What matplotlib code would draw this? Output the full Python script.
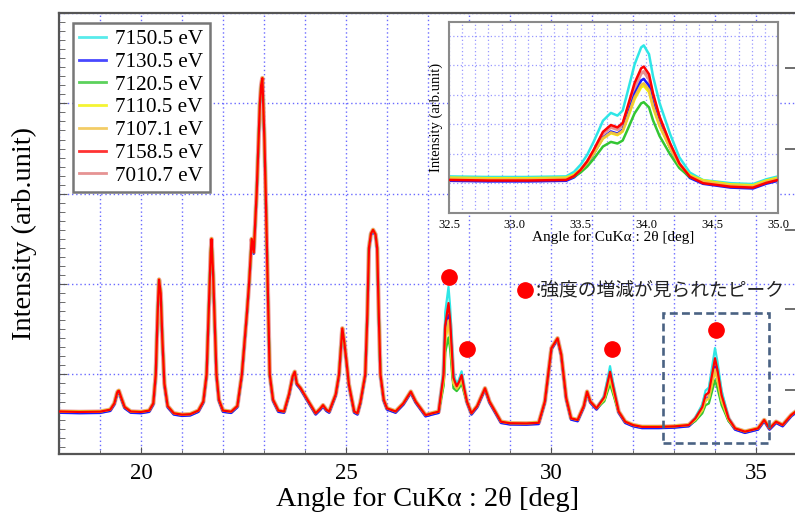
import numpy as np
import matplotlib.pyplot as plt
from matplotlib.patches import Rectangle
from matplotlib.ticker import MultipleLocator, FormatStrFormatter

plt.rcParams['font.family'] = ['Liberation Serif', 'DejaVu Sans']

labels = ['7150.5 eV', '7130.5 eV', '7120.5 eV', '7110.5 eV', '7107.1 eV', '7158.5 eV', '7010.7 eV']
colors = ['#2ee6e6', '#1a1aff', '#33c633', '#f2f200', '#f0c040', '#ff0000', '#e07878']
# peak height at the marked peaks relative to 7158.5 eV
gains = [1.155, 0.90, 0.68, 0.81, 0.84, 1.0, 0.95]
main_shift = [-5, -15, 0, 5, 0, 0, 0]
inset_shift = [0.12, -0.03, 0.03, 0.08, 0.05, 0.0, 0.02]

# main pattern (7158.5 eV curve), 2theta vs intensity
two_theta = [18.0, 18.5, 19.0, 19.25, 19.35, 19.42, 19.44, 19.46, 19.52, 19.6, 19.75,
             20.0, 20.2, 20.3, 20.36, 20.40, 20.42, 20.44, 20.48, 20.52, 20.57, 20.65,
             20.8, 21.0, 21.2, 21.4, 21.52, 21.6, 21.66, 21.70, 21.72, 21.76, 21.79,
             21.84, 21.9, 22.0, 22.2, 22.35, 22.46, 22.58, 22.64, 22.70, 22.75,
             22.82, 22.90, 22.93, 22.96, 23.01, 23.05, 23.09, 23.14, 23.22, 23.35, 23.49,
             23.61, 23.70, 23.75, 23.80, 23.89, 24.06, 24.26, 24.37, 24.44, 24.52,
             24.59, 24.75, 24.83, 24.91, 24.96, 25.01, 25.07, 25.2, 25.28, 25.35,
             25.47, 25.52, 25.56, 25.61, 25.66, 25.72, 25.76, 25.80, 25.84, 25.92, 26.0,
             26.21, 26.4, 26.58, 26.7, 26.94, 27.1, 27.26, 27.38, 27.42, 27.50,
             27.54, 27.58, 27.62, 27.70, 27.76, 27.82, 27.88, 27.95, 28.06, 28.2,
             28.39, 28.5, 28.78, 29.0, 29.4, 29.7, 29.85, 29.93, 30.01, 30.16,
             30.25, 30.37, 30.49, 30.65, 30.8, 30.88, 30.96, 31.11, 31.3, 31.44,
             31.5, 31.65, 31.81, 32.0, 32.22, 32.63, 33.0, 33.36, 33.52, 33.69,
             33.77, 33.85, 33.93, 34.0, 34.06, 34.16, 34.33, 34.49, 34.73, 35.05,
             35.2, 35.33, 35.49, 35.65, 35.86, 36.0]
intensity = [590, 585, 588, 610, 680, 800, 815, 820, 740, 640, 590,
             585, 600, 680, 1000, 1600, 1850, 2050, 1900, 1400, 900, 650,
             570, 555, 560, 600, 700, 1000, 1800, 2350, 2500, 2100, 1700,
             1000, 720, 600, 588, 650, 1000, 1660, 2030, 2500, 2350,
             3000, 4000, 4200, 4280, 3600, 2850, 2000, 1000, 720, 600, 590,
             780, 980, 1030, 900, 850, 720, 570, 620, 660, 610,
             590, 780, 1000, 1510, 1350, 1150, 890, 590, 570, 690,
             1000, 1660, 2400, 2560, 2600, 2550, 2400, 1660, 1000, 720, 625,
             590, 680, 810, 700, 550, 570, 588, 1000, 1547, 1790,
             1600, 1290, 964, 870, 920, 994, 850, 700, 570, 650,
             847, 700, 477, 460, 458, 465, 700, 1000, 1290, 1400,
             1220, 740, 514, 496, 650, 810, 700, 625, 750, 1030,
             900, 590, 477, 440, 420, 420, 425, 440, 514, 640,
             773, 800, 1000, 1179, 1050, 773, 514, 403, 367, 403,
             496, 403, 477, 440, 551, 600]

# marked peaks: (from, to, local background)
marked_windows = [(27.35, 27.66, 600), (27.68, 27.92, 700), (31.28, 31.56, 600), (33.45, 34.4, 420)]
dot_x = [27.50, 27.96, 31.48, 34.02]
dot_y = [2082, 1282, 1282, 1492]

# inset, 32.5-35.0 deg (7158.5 eV curve)
inset_theta = [32.5, 32.8, 33.1, 33.39, 33.45, 33.5, 33.55, 33.60, 33.67, 33.73,
               33.78, 33.82, 33.85, 33.91, 33.96, 33.98, 34.02, 34.05, 34.10, 34.18,
               34.25, 34.33, 34.43, 34.64, 34.81, 34.91, 35.0]
inset_int = [1.12, 1.10, 1.10, 1.12, 1.25, 1.46, 1.75, 2.14, 2.75, 2.98,
             2.90, 3.05, 3.49, 4.40, 4.90, 4.96, 4.70, 4.06, 3.27, 2.36,
             1.68, 1.23, 1.01, 0.89, 0.86, 1.02, 1.12]
inset_bg = 1.1

fig = plt.figure(figsize=(7.95, 5.13), dpi=100)
ax = fig.add_axes([59 / 795, (513 - 453.5) / 513, 738 / 795, 440.5 / 513])

tt = np.array(two_theta)
base = np.array(intensity, dtype=float)
handles = []
for k in range(len(labels)):
    y = base.copy()
    for a, b, bg in marked_windows:
        m = (tt >= a) & (tt <= b)
        y[m] = bg + gains[k] * (base[m] - bg)
    y = y + main_shift[k]
    if k == 6:
        ln, = ax.plot(tt, y, color=colors[k], lw=3.2, alpha=0.7, zorder=2.0, label=labels[k])
    else:
        ln, = ax.plot(tt, y, color=colors[k], lw=1.6, zorder=2.1 + 0.1 * k, label=labels[k])
    handles.append(ln)

ax.plot(dot_x, dot_y, 'o', color='#ff0000', ms=11, zorder=5)
ax.plot([29.37], [1935], 'o', color='#ff0000', ms=11, zorder=5)
ax.text(29.62, 1935, ':強度の増減が見られたピーク', fontsize=13.5, va='center', ha='left',
        family=['Noto Sans CJK JP', 'DejaVu Sans'], color='#222222')

ax.add_patch(Rectangle((32.73, 245), 35.32 - 32.73, 1677 - 245, fill=False,
                       ec='#4a6283', lw=1.9, ls=(0, (3, 1.6)), zorder=6))

ax.set_xlim(18, 36)
ax.set_ylim(125, 5000)
ax.xaxis.set_major_locator(MultipleLocator(5))
ax.xaxis.set_minor_locator(MultipleLocator(1))
ax.yaxis.set_major_locator(MultipleLocator(1000))
ax.yaxis.set_minor_locator(MultipleLocator(100))
grid_kw = dict(color='#6a6aff', lw=1.0, ls=(0, (1, 2)))
ax.grid(True, which='both', axis='x', **grid_kw)
ax.grid(True, which='major', axis='y', **grid_kw)
ax.set_axisbelow(True)
ax.tick_params(axis='y', which='both', direction='in', labelleft=False, color='#555555')
ax.tick_params(axis='y', which='major', length=6)
ax.tick_params(axis='y', which='minor', length=4)
ax.tick_params(axis='x', which='both', direction='in', color='#555555', labelsize=16.5, pad=7)
ax.tick_params(axis='x', which='major', length=5)
ax.tick_params(axis='x', which='minor', length=3)
for s in ['left', 'bottom', 'top']:
    ax.spines[s].set_color('#555555')
    ax.spines[s].set_linewidth(1.6)
ax.spines['right'].set_visible(False)
ax.set_xlabel('Angle for CuKα : 2θ [deg]', fontsize=20.5, labelpad=2)
ax.set_ylabel('Intensity (arb.unit)', fontsize=20.5, labelpad=16)

ax2 = ax.twinx()
ax2.set_ylim(ax.get_ylim())
ax2.set_yticks([828, 1725, 2599, 3496, 4393])
ax2.tick_params(direction='in', length=9, labelright=False, color='#555555', width=1.2)
for s in ax2.spines.values():
    s.set_visible(False)

leg = ax.legend(handles=handles, loc='upper left', bbox_to_anchor=(0.019, 0.977), borderaxespad=0,
                fontsize=15.2, frameon=True, fancybox=False, framealpha=1, edgecolor='#777777',
                handlelength=1.25, handletextpad=0.45, labelspacing=0.14, borderpad=0.3)
leg.get_frame().set_linewidth(1.8)
for h in leg.legend_handles:
    h.set_linewidth(2)
    h.set_alpha(0.8)
leg.set_zorder(10)

# inset
axi = fig.add_axes([449 / 795, (513 - 213) / 513, 329 / 795, 191 / 513])
it = np.array(inset_theta)
ib = np.array(inset_int)
for k in range(len(labels)):
    y = ib.copy()
    m = (it >= 33.4) & (it <= 34.45)
    y[m] = inset_bg + gains[k] * (ib[m] - inset_bg)
    y = y + inset_shift[k]
    if k == 6:
        axi.plot(it, y, color=colors[k], lw=2.4, alpha=0.8, zorder=2.0)
    else:
        axi.plot(it, y, color=colors[k], lw=1.8, zorder=2.1 + 0.1 * k)
axi.set_xlim(32.5, 35.0)
axi.set_ylim(0, 6.47)
axi.xaxis.set_major_locator(MultipleLocator(0.5))
axi.xaxis.set_minor_locator(MultipleLocator(0.1))
axi.xaxis.set_major_formatter(FormatStrFormatter('%.1f'))
axi.yaxis.set_major_locator(MultipleLocator(1))
gi_kw = dict(color='#9a9aff', lw=0.9, ls=(0, (1, 2)))
axi.grid(True, which='both', axis='x', **gi_kw)
axi.grid(True, which='major', axis='y', **gi_kw)
axi.set_axisbelow(True)
axi.tick_params(which='both', length=0, labelleft=False, labelsize=9, pad=4)
for s in axi.spines.values():
    s.set_color('#8a8a8a')
    s.set_linewidth(1.5)
axi.set_xlabel('Angle for CuKα : 2θ [deg]', fontsize=11, labelpad=0)
axi.set_ylabel('Intensity (arb.unit)', fontsize=10.5, labelpad=4)

fig.savefig('out.png', dpi=100)
